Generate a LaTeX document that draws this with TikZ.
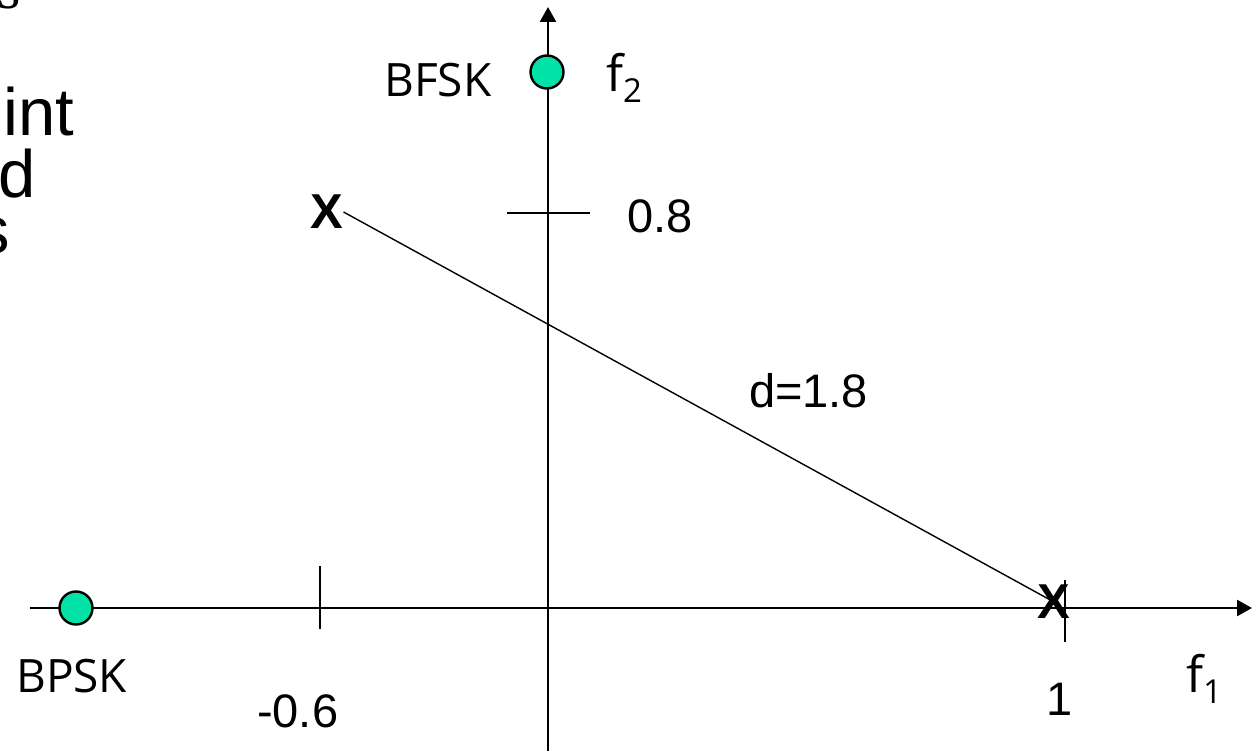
\documentclass[tikz,border=0pt]{standalone}
\usepackage{fontspec}
\usetikzlibrary{arrows.meta}
\newfontfamily\lib{Liberation Sans}
\newfontfamily\osans{Open Sans}
\newfontfamily\libserif{Liberation Serif}
\definecolor{aqua}{RGB}{0,226,166}
\tikzset{
  axisline/.style={line width=2.6bp,-{Triangle[length=15bp,width=16bp]}},
  tickline/.style={line width=1.6bp},
  pt/.style={circle,draw=black,line width=2.4bp,fill=aqua,minimum size=33bp,inner sep=0pt},
  lbl/.style={inner sep=0pt,anchor=base west,font=\osans\fontsize{46bp}{50bp}\selectfont},
  flbl/.style={inner sep=0pt,anchor=base west,font=\osans\fontsize{50bp}{52bp}\selectfont},
  num/.style={inner sep=0pt,anchor=base west,font=\lib\fontsize{47bp}{50bp}\selectfont},
  xmark/.style={inner sep=0pt,font=\lib\bfseries\fontsize{49bp}{50bp}\selectfont},
  bg/.style={inner sep=0pt,anchor=base west,font=\lib\fontsize{67bp}{62bp}\selectfont}
}
\newcommand{\subs}[1]{\raisebox{-11bp}{\fontsize{33bp}{34bp}\selectfont #1}}
\begin{document}
\begin{tikzpicture}[x=1bp,y=-1bp]
\useasboundingbox (0,0) rectangle (1257,751);
\clip (0,0) rectangle (1257,751);
\fill[white] (0,0) rectangle (1257,751);
% clipped slide text at the left edge
\node[bg,font=\libserif\fontsize{60bp}{62bp}\selectfont] (t0) at (-3,9) {s};
\node[bg] (t1) at (3,135) {int};
\node[bg] (t2) at (-2,197) {d};
\node[bg] (t3) at (-24,253) {s};
% axes
\coordinate (xs) at (30,608);
\coordinate (xe) at (1252,608);
\coordinate (ys) at (548,760);
\coordinate (ye) at (548,7);
\draw[axisline] (xs) -- (xe);
\draw[axisline] (ys) -- (ye);
% ticks
\coordinate (ta1) at (320,566); \coordinate (ta2) at (320,629);
\coordinate (tb1) at (1065,580); \coordinate (tb2) at (1065,642);
\coordinate (tc1) at (507,213); \coordinate (tc2) at (590,213);
\draw[tickline] (ta1) -- (ta2);
\draw[tickline] (tb1) -- (tb2);
\draw[tickline] (tc1) -- (tc2);
% constellation points
\node[pt] (bpsk) at (76,608) {};
\node[pt] (bfsk) at (547,72) {};
% X marks and distance line
\node[xmark] (xa) at (327,212) {X};
\node[xmark] (xb) at (1054,602) {X};
\draw[line width=1.4bp] (xa.east) -- (xb.center);
% labels
\node[lbl] (lbfsk) at (384,97) {BFSK};
\node[flbl] (lf2) at (606,92) {f\subs{2}};
\node[lbl] (lbpsk) at (16,692) {BPSK};
\node[flbl] (lf1) at (1186,692) {f\subs{1}};
\node[num] (l08) at (627,232) {0.8};
\node[num] (ld) at (749,407) {d=1.8};
\node[num] (l06) at (257,727) {-0.6};
\node[num,anchor=base] (l1) at (1060,715) {1};
\end{tikzpicture}
\end{document}
